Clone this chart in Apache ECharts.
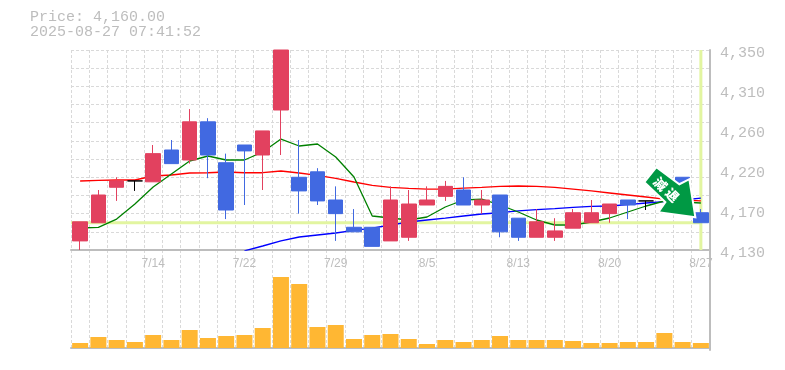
<!DOCTYPE html>
<html><head><meta charset="utf-8">
<style>html,body{margin:0;padding:0;background:#fff}#c{width:785px;height:370px}</style>
<script src="https://cdn.jsdelivr.net/npm/echarts@6/dist/echarts.min.js"></script>
</head><body><div id="c"></div>
<script>
const categories=['7/8','7/9','7/10','7/11','7/14','7/15','7/16','7/17','7/18','7/22','7/23','7/24','7/25','7/28','7/29','7/30','7/31','8/1','8/4','8/5','8/6','8/7','8/8','8/12','8/13','8/14','8/15','8/18','8/19','8/20','8/21','8/22','8/25','8/26','8/27'];
// open, close, low, high
const ohlc=[
[4140,4161,4130,4161],[4160,4190.5,4160,4196],[4199,4206,4184,4210],[4206,4206,4195,4206],
[4205,4236,4205,4245.5],[4240,4225,4225,4251],[4229,4271,4225,4285],[4271,4234.5,4209,4275],
[4226,4174,4164,4236],[4245.5,4239,4179.5,4245.5],[4234.5,4261,4196,4261],[4284,4350,4234.5,4350],
[4210,4195,4170,4251],[4216,4184,4179.5,4220],[4185,4170,4140,4200],[4155,4150,4150,4175],
[4155,4134,4134,4155],[4140,4185,4140,4200],[4144,4180.6,4140,4196],[4179.5,4185,4179.5,4200],
[4189,4200,4184,4206],[4196,4179.5,4179.5,4210],[4179.5,4185,4170,4196],[4190.5,4150,4144,4190.5],
[4165,4144,4140,4165],[4144,4161,4144,4175],[4144,4151,4140,4165],[4154,4171,4154,4175],
[4160,4171,4160,4185],[4170,4180.6,4160,4180.6],[4185,4179.5,4164,4185],[4184,4184,4174,4184],
[4199,4195,4195,4199],[4210,4204,4204,4210],[4171,4160,4160,4175]];
const ma5=[4154.2,4154.8,4164,4180.6,4199.3,4213.6,4227.9,4233.4,4229,4229,4237.8,4252,4244.4,4246.6,4232.3,4210.3,4167.4,4165.2,4163,4166.3,4177.3,4185,4186,4179.5,4171.8,4163,4157.5,4157.5,4160.8,4165.2,4171.8,4178.4,4183.9,4182.8,4181.7];
const ma25=[4205.9,4206.5,4207,4207,4211.4,4212.5,4214.7,4215,4215.8,4215,4215,4216.9,4214.7,4212,4208.7,4204.8,4201,4198.8,4197.7,4197,4197,4198,4198.8,4200,4200.4,4200,4198.8,4197,4195,4192.7,4190.5,4188.3,4186,4185,4184];
const ma75=[null,null,null,null,null,null,null,null,null,4129,4134.4,4140,4144.3,4146.5,4148.7,4151.5,4154,4157.5,4160.8,4163,4165,4167.4,4169.6,4171,4173,4174.5,4175.6,4176.8,4178,4178.4,4180,4181.7,4183.3,4185,4187];
const volumes=[5,11,8,6,13,8,18,10,12,13,20,71,64,21,23,9,13,14,9,4,8,6,8,12,8,8,8,7,5,5,6,6,15,6,5];
const priceTicks=['4,350','4,310','4,260','4,220','4,170','4,130'];
const headerLines=['Price: 4,160.00','2025-08-27 07:41:52'];
const currentPrice=4160;
const arrowText=['減','退'];

const MONO='"Liberation Mono",monospace';
const grey='#bdbdbd', gridC='#d9d9d9', red='#E2415F', blue='#4169E1', band='#E2F5A0';
const lastIdx=categories.length-1;

function annotation(params,api){
  const p=api.coord([api.value(0),api.value(1)]);
  const cs=params.coordSys;
  return {type:'group',children:[
    {type:'rect',shape:{x:cs.x,y:p[1]-1.5,width:p[0]-cs.x,height:3},style:{fill:band}},
    {type:'rect',shape:{x:p[0]-1.5,y:cs.y,width:3,height:cs.height},style:{fill:band}}
  ]};
}
function arrow(params,api){
  const p=api.coord([api.value(0),api.value(1)]);
  const tipX=p[0]-5.5, tipY=p[1]-5.5;
  const pts=[[-39,-50],[-51,-35],[-30,-15],[-37,-5],[0,0],[-6,-38],[-16,-33]].map(a=>[tipX+a[0],tipY+a[1]]);
  const glyph=(t,dx,dy)=>({type:'text',x:tipX+dx,y:tipY+dy,rotation:-Math.PI/4,style:{text:t,fill:'#fff',font:'900 13px "Noto Sans CJK JP"',align:'center',verticalAlign:'middle'},z2:11});
  return {type:'group',children:[
    {type:'polygon',shape:{points:pts},style:{fill:'#009944',stroke:'#fff',lineWidth:2,lineJoin:'miter'},z2:10},
    glyph(arrowText[0],-35,-33),
    glyph(arrowText[1],-23,-22)
  ]};
}
const maSeries=(name,data,color)=>({name,type:'line',data,smooth:false,symbol:'none',lineStyle:{color,width:1.3},z:3,silent:true});

const chart=echarts.init(document.getElementById('c'),null,{renderer:'canvas'});
chart.setOption({
 animation:false,backgroundColor:'#fff',
 graphic:[
  {type:'text',left:30,top:10,style:{text:headerLines.join('\n'),fill:grey,font:'15px '+MONO,lineHeight:15}}
 ],
 grid:[{left:71,top:50,width:639,height:200},{left:71,top:250,width:639,height:100}],
 xAxis:[
  {type:'category',data:categories,gridIndex:0,boundaryGap:true,
   axisLine:{show:true,lineStyle:{color:grey,width:2}},axisTick:{show:false},
   axisLabel:{show:true,interval:(i)=>(i+1)%5===0,color:grey,fontFamily:'"Liberation Sans"',fontSize:12,margin:8,hideOverlap:false},
   splitLine:{show:true,interval:0,lineStyle:{color:gridC,type:[3,2]}}},
  {type:'category',data:categories,gridIndex:1,boundaryGap:true,
   axisLine:{show:true,lineStyle:{color:grey,width:2}},axisTick:{show:false},axisLabel:{show:false},
   splitLine:{show:true,interval:0,lineStyle:{color:gridC,type:[3,2]}}}
 ],
 yAxis:[
  {type:'value',gridIndex:0,position:'right',min:4130,max:4350,interval:20,
   axisLine:{show:true,lineStyle:{color:grey,width:2}},axisTick:{show:false},
   axisLabel:{color:grey,fontFamily:MONO,fontSize:15,margin:10,verticalAlign:'top',lineHeight:7,
     customValues:[4350,4306,4262,4218,4174,4130],
     formatter:(v)=>priceTicks[Math.round((4350-v)/44)]},
   splitLine:{show:true,lineStyle:{color:gridC,type:[3,2]}}},
  {type:'value',gridIndex:1,position:'right',min:-2,max:98,
   axisLine:{show:true,lineStyle:{color:grey,width:2}},axisTick:{show:false},axisLabel:{show:false},splitLine:{show:false}}
 ],
 series:[
  {type:'custom',xAxisIndex:0,yAxisIndex:0,data:[[lastIdx,currentPrice]],renderItem:annotation,z:1,silent:true,clip:false},
  maSeries('ma25',ma25,'#ff0000'),
  maSeries('ma75',ma75,'#0000ff'),
  maSeries('ma5',ma5,'#008000'),
  {type:'candlestick',xAxisIndex:0,yAxisIndex:0,data:ohlc,barWidth:15,z:5,clip:true,
   itemStyle:{color:red,color0:blue,borderColor:red,borderColor0:blue,borderColorDoji:'#000',borderWidth:1}},
  {type:'bar',xAxisIndex:1,yAxisIndex:1,data:volumes,barWidth:16,itemStyle:{color:'#FFB733'},z:2},
  {type:'custom',xAxisIndex:0,yAxisIndex:0,data:[[lastIdx,currentPrice]],renderItem:arrow,z:9,silent:true,clip:false}
 ]
});
</script></body></html>
